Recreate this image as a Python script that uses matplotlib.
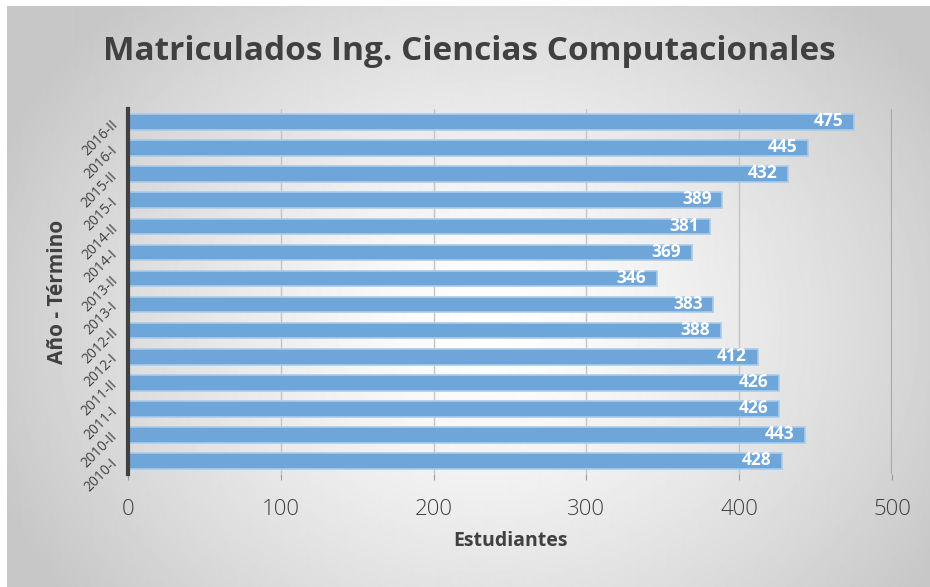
import matplotlib.pyplot as plt
import numpy as np

# ==== Data ==== #
terms = ["2010-I", "2010-II", "2011-I", "2011-II", "2012-I", "2012-II", "2013-I",
         "2013-II", "2014-I", "2014-II", "2015-I", "2015-II", "2016-I", "2016-II"]
students = [428, 443, 426, 426, 412, 388, 383, 346, 369, 381, 389, 432, 445, 475]
x_ticks = [0, 100, 200, 300, 400, 500]

plt.rcParams["font.family"] = ["Open Sans", "DejaVu Sans"]
txt = "#404040"

fig = plt.figure(figsize=(9.3, 5.87), dpi=100)
W, H = 930, 587

# ==== Radial gradient background ==== #
bg = fig.add_axes([7 / W, 0, 1 - 7 / W, 1 - 6 / H], zorder=0)
yy, xx = np.mgrid[0:581, 0:923]
r = np.sqrt(((xx - 480) / 620) ** 2 + ((yy - 320) / 520) ** 2)
shade = np.clip(1.0 - 0.27 * r ** 1.3, 0.78, 1.0)
bg.imshow(shade, cmap="gray", vmin=0, vmax=1, aspect="auto",
          extent=[0, 1, 0, 1], interpolation="bilinear")
bg.set_axis_off()

# ==== Bar chart ==== #
ax = fig.add_axes([128 / W, 1 - 474 / H, (892 - 128) / W, (474 - 109) / H], zorder=1)
ax.patch.set_alpha(0)
y = np.arange(len(terms))
ax.barh(y, students, height=0.6, color="#6fa6da", edgecolor="#a9cbee",
        linewidth=1.2, zorder=3)

for yi, v in zip(y, students):
    ax.text(v - 7, yi + 0.03, str(v), ha="right", va="center", color="white",
            fontsize=12.5, fontweight="bold", zorder=4)

ax.set_xlim(0, 500)
ax.set_ylim(-0.5, len(terms) - 0.5)
ax.set_xticks(x_ticks)
ax.set_yticks(y)
ax.set_yticklabels(terms, rotation=45, fontsize=10, color=txt,
                   ha="right", va="center", rotation_mode="anchor")
ax.tick_params(axis="y", length=0, pad=9)
ax.tick_params(axis="x", length=4, color="#9a9a9a", labelsize=16,
               labelcolor=txt, pad=14)
for lbl in ax.get_xticklabels():
    lbl.set_fontweight("light")
ax.grid(axis="x", color="#c4c4c4", linewidth=1, zorder=0)
ax.axvline(500, color="#a0a0a0", linewidth=1.5, zorder=1)

for s in ["top", "right", "bottom"]:
    ax.spines[s].set_visible(False)
ax.spines["left"].set_color("#404040")
ax.spines["left"].set_linewidth(3)
ax.spines["left"].set_zorder(5)

ax.set_xlabel("Estudiantes", fontsize=14, fontweight="bold", color=txt, labelpad=8)
ax.set_ylabel("Año - Término", fontsize=15, fontweight="bold", color=txt, labelpad=8)

fig.text(0.5 + 4 / W, 1 - 52 / H, "Matriculados Ing. Ciencias Computacionales",
         ha="center", va="center", fontsize=24, fontweight="bold", color=txt)

fig.savefig("out.png", dpi=100)
